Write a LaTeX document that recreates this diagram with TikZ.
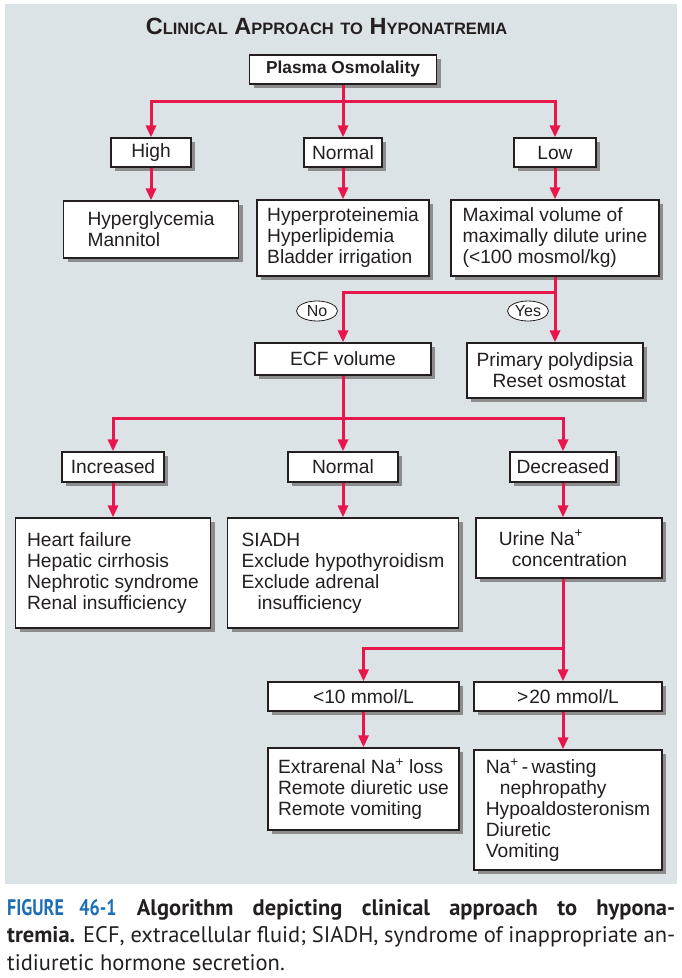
\documentclass[tikz,border=0pt]{standalone}
\usepackage{fontspec}
\setmainfont{Liberation Sans}
\newfontfamily\capfont{PT Sans}
\newfontfamily\figfont[FakeStretch=0.8]{PT Sans}
\usetikzlibrary{arrows.meta,shadows,shapes.geometric}
\definecolor{panel}{RGB}{220,227,230}
\definecolor{crim}{RGB}{233,22,78}
\definecolor{shad}{RGB}{140,140,140}
\definecolor{figblue}{RGB}{30,110,180}
\definecolor{txt}{RGB}{35,31,32}
\newcommand\mysc[1]{{\fontsize{16.5}{17}\selectfont #1}}
\tikzset{
  box/.style={draw=txt, line width=1.2pt, fill=white, inner sep=0pt, align=left,
    font=\fontsize{19.2}{21}\selectfont, text=txt,
    drop shadow={shadow xshift=4pt, shadow yshift=-4pt, fill=shad, opacity=1}},
  lab/.style={ellipse, draw=txt, fill=white, line width=0.8pt, inner sep=0pt,
    minimum width=41pt, minimum height=20pt, font=\fontsize{16}{16}\selectfont, text=txt},
  ln/.style={draw=crim, line width=3pt},
  arr/.style={ln, -{Triangle[width=10pt,length=12pt]}}
}
\begin{document}
\begin{tikzpicture}[x=1pt,y=-1pt]
\useasboundingbox (0,0) rectangle (682,978);
\fill[panel] (5,4) rectangle (677,884);
\node[anchor=base, text=txt, inner sep=0pt] (title) at (326.5,34)
  {\fontsize{23.5}{24}\selectfont\bfseries C\mysc{LINICAL} A\mysc{PPROACH} \mysc{TO} H\mysc{YPONATREMIA}};
% row 0
\node[box, minimum width=187pt, minimum height=29pt, font=\fontsize{17.3}{20}\selectfont\bfseries] (po) at (343,69.5) {Plasma Osmolality};
% row 1
\node[box, minimum width=80pt, minimum height=29pt] (high) at (151,152.5) {High};
\node[box, minimum width=78pt, minimum height=29pt] (n1) at (343,152.5) {Normal};
\node[box, minimum width=82pt, minimum height=29pt] (low) at (555,152.5) {Low};
% row 2
\node[box, minimum width=175pt, minimum height=57pt] (hg) at (151,229.5) {Hyperglycemia\\Mannitol};
\node[box, minimum width=172pt, minimum height=76pt] (hp) at (343,238) {Hyperproteinemia\\Hyperlipidemia\\Bladder irrigation};
\node[box, minimum width=208pt, minimum height=76pt] (mx) at (555,238) {Maximal volume of\\maximally dilute urine\\(\textless100 mosmol/kg)};
% row 3
\node[box, minimum width=176pt, minimum height=32pt] (ecf) at (343,359) {ECF volume};
\node[box, minimum width=176pt, minimum height=55pt] (prim) at (555,370.5) {Primary polydipsia\\\hspace*{16pt}Reset osmostat};
\node[lab] (no) at (317,311) {No};
\node[lab] (yes) at (528,311) {Yes};
% row 4
\node[box, minimum width=102pt, minimum height=30pt] (inc) at (113,467) {Increased};
\node[box, minimum width=110pt, minimum height=30pt] (n2) at (343,467) {Normal};
\node[box, minimum width=106pt, minimum height=30pt] (dec) at (563,467) {Decreased};
% row 5
\node[box, minimum width=195pt, minimum height=110pt] (hf) at (113,573) {Heart failure\\Hepatic cirrhosis\\Nephrotic syndrome\\Renal insufficiency};
\node[box, minimum width=231pt, minimum height=110pt] (si) at (343,573) {SIADH\\Exclude hypothyroidism\\Exclude adrenal\\\hspace*{16pt}insufficiency};
\node[box, minimum width=186pt, minimum height=60pt] (ur) at (569,548) {Urine Na\textsuperscript{+}\\\hspace*{13pt}concentration\hspace*{12pt}};
% row 6
\node[box, minimum width=191pt, minimum height=29pt] (lt) at (363.5,696.5) {\textless10 mmol/L};
\node[box, minimum width=188pt, minimum height=29pt] (gt) at (568,696.5) {\textgreater\kern1pt 20 mmol/L};
% row 7
\node[box, minimum width=191pt, minimum height=82pt] (ex) at (363.5,789) {Extrarenal Na\textsuperscript{+} loss\\Remote diuretic use\\Remote vomiting};
\node[box, minimum width=188pt, minimum height=120pt] (nw) at (568,810) {Na\textsuperscript{+}\,-\,wasting\\\hspace*{14pt}nephropathy\\Hypoaldosteronism\\Diuretic\\Vomiting};
% connectors
\coordinate (j1) at (343,101);
\coordinate (j2) at (555,292);
\coordinate (j3) at (343,418);
\coordinate (j4) at (563,648);
\draw[ln] (po.south) -- (j1);
\draw[arr] (j1) -| (high.north);
\draw[arr] (j1) -- (n1.north);
\draw[arr] (j1) -| (low.north);
\draw[arr] (high.south) -- (hg.north);
\draw[arr] (n1.south) -- (hp.north);
\draw[arr] (low.south) -- (mx.north);
\draw[ln] (mx.south) -- (j2);
\draw[arr] (j2) -| (ecf.north);
\draw[arr] (j2) -- (prim.north);
\draw[ln] (ecf.south) -- (j3);
\draw[arr] (j3) -| (inc.north);
\draw[arr] (j3) -- (n2.north);
\draw[arr] (j3) -| (dec.north);
\draw[arr] (inc.south) -- (hf.north);
\draw[arr] (n2.south) -- (si.north);
\draw[arr] (dec.south) -- (dec.south |- ur.north);
\draw[ln] (ur.south -| j4) -- (j4);
\draw[arr] (j4) -| (lt.north);
\draw[arr] (j4) -- (j4 |- gt.north);
\draw[arr] (lt.south) -- (ex.north);
\draw[arr] (gt.south -| j4) -- (j4 |- nw.north);
% caption
\node[anchor=north west, inner sep=0pt, text=txt] (cap) at (7,899) {\capfont\fontsize{22.5}{27.5}\selectfont
\vbox{\baselineskip=27.5pt
\hbox to 668pt{{\figfont\bfseries\color{figblue}FIGURE 46-1} \textbf{Algorithm depicting clinical approach to hypona-}}
\hbox to 668pt{\textbf{tremia.} ECF, extracellular fluid; SIADH, syndrome of inappropriate an-}
\hbox{tidiuretic hormone secretion.}}};
\end{tikzpicture}
\end{document}
